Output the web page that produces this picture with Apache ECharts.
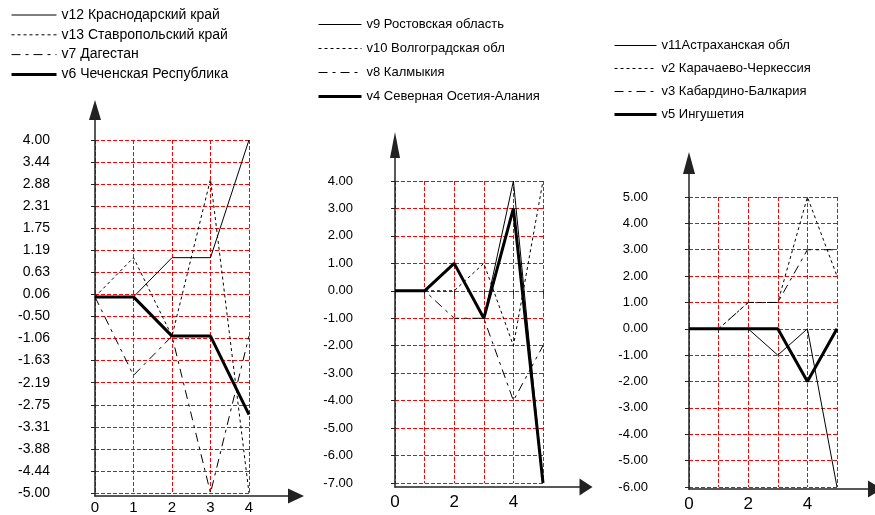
<!DOCTYPE html>
<html>
<head>
<meta charset="utf-8">
<script src="https://cdn.jsdelivr.net/npm/echarts@6/dist/echarts.min.js"></script>
<style>
html,body{margin:0;padding:0;background:#fff;}
#c{width:875px;height:515px;}
</style>
</head>
<body>
<div id="c"></div>
<script>
// ---- Chart 1 data ----
const x1 = [0, 1, 2, 3, 4];
const names1 = ['v12 Краснодарский край', 'v13 Ставропольский край', 'v7 Дагестан', 'v6 Чеченская Республика'];
const v12 = [0, 0, 1, 1, 4];
const v13 = [0, 1, -1, 3, -5];
const v7 = [0, -2, -1, -5, -1];
const v6 = [0, 0, -1, -1, -3];
const yTicks1 = ['-5.00','-4.44','-3.88','-3.31','-2.75','-2.19','-1.63','-1.06','-0.50','0.06','0.63','1.19','1.75','2.31','2.88','3.44','4.00'];
const y1Min = -5, y1Max = 4;

// ---- Chart 2 data ----
const x2 = [0, 1, 2, 3, 4, 5];
const names2 = ['v9 Ростовская область', 'v10 Волгоградская обл', 'v8 Калмыкия', 'v4 Северная Осетия-Алания'];
const v9 = [0, 0, 1, -1, 4, -7];
const v10 = [0, 0, 0, 1, -2, 4];
const v8 = [0, 0, -1, -1, -4, -2];
const v4 = [0, 0, 1, -1, 3, -7];
const y2Min = -7, y2Max = 4;

// ---- Chart 3 data ----
const x3 = [0, 1, 2, 3, 4, 5];
const names3 = ['v11Астраханская обл', 'v2 Карачаево-Черкессия', 'v3 Кабардино-Балкария', 'v5 Ингушетия'];
const v11 = [0, 0, 0, -1, 0, -6];
const v2 = [0, 0, 1, 1, 5, 2];
const v3 = [0, 0, 1, 1, 3, 3];
const v5 = [0, 0, 0, 0, -2, 0];
const y3Min = -6, y3Max = 5;

const FONT = '"Liberation Sans", Arial, sans-serif';
const RED = '#ff0000';
const AX = '#222';
const CLEAR = 'rgba(0,0,0,0)';

const styles = [
  {type: 'solid', width: 1},
  {type: [3, 3], width: 1},
  {type: [9, 5, 3, 5], width: 1},
  {type: 'solid', width: 3}
];

function pairs(xs, ys) { return xs.map((x, i) => [x, ys[i]]); }

function mkSeries(names, xs, arrs, gi) {
  return arrs.map((a, i) => ({
    name: names[i], type: 'line', xAxisIndex: gi, yAxisIndex: gi,
    data: pairs(xs, a), symbol: 'none', silent: true, animation: false,
    lineStyle: {color: '#000', width: styles[i].width, type: styles[i].type},
    itemStyle: {color: CLEAR, borderColor: CLEAR, borderWidth: 0}, z: 5 + i
  }));
}

// inner grids (data range) indices 0..2, outer grids (arrow axes) 3..5
const grids = [
  {left: 95, top: 140, width: 154, height: 353},
  {left: 395, top: 181, width: 148, height: 302},
  {left: 689, top: 197, width: 148, height: 290},
  {left: 95, top: 110, right: 579, bottom: 19},
  {left: 395, top: 145, right: 289, bottom: 28},
  {left: 689, top: 163, right: -5, bottom: 26}
];

const splitDash = {show: true, lineStyle: {color: RED, type: [4, 2], width: 1}};

function innerX(gi, max, fontSize, every, margin, offset) {
  return {
    gridIndex: gi, type: 'value', min: 0, max: max, interval: 1, offset: offset,
    axisLine: {show: false},
    axisTick: {show: true, length: 4, lineStyle: {color: AX, width: 1}},
    axisLabel: {show: true, margin: margin, color: '#000', fontSize: fontSize, fontFamily: FONT,
      formatter: v => (v % every === 0 ? String(v) : '')},
    splitLine: splitDash
  };
}

function innerY(gi, min, max, interval, labels, fontSize, margin) {
  return {
    gridIndex: gi, type: 'value', min: min, max: max, interval: interval,
    axisLine: {show: false},
    axisTick: {show: true, length: 4, lineStyle: {color: AX, width: 1}},
    axisLabel: {show: true, margin: margin, color: '#000', fontSize: fontSize, fontFamily: FONT,
      formatter: v => labels ? labels[Math.round((v - min) / interval)] : v.toFixed(2)},
    splitLine: splitDash
  };
}

function outerAxis(gi, size) {
  return {gridIndex: gi, type: 'value', min: 0, max: 1,
    axisLine: {show: true, onZero: false, symbol: ['none', 'triangle'], symbolSize: size, lineStyle: {color: AX, width: 1.5}},
    axisTick: {show: false}, axisLabel: {show: false}, splitLine: {show: false}};
}

function legend(names, left, top, iw, gap, fontSize) {
  return {
    data: names.map((n, i) => ({name: n, lineStyle: {width: styles[i].width}})),
    orient: 'vertical', left: left, top: top, itemWidth: iw, itemHeight: 14, itemGap: gap,
    selectedMode: false, padding: 0,
    itemStyle: {color: CLEAR, borderColor: CLEAR, borderWidth: 0},
    textStyle: {color: '#000', fontSize: fontSize, fontFamily: FONT}
  };
}

const option = {
  backgroundColor: '#fff',
  animation: false,
  grid: grids,
  legend: [
    legend(names1, 10, 8, 45, 5.8, 14),
    legend(names2, 317, 18, 43, 11, 13),
    legend(names3, 613, 39, 42, 10, 13)
  ],
  xAxis: [
    innerX(0, 4, 15, 1, 5, 2),
    innerX(1, 5, 17, 2, 7, 4),
    innerX(2, 5, 17, 2, 7, 2),
    outerAxis(3, [15, 16]),
    outerAxis(4, [17, 13]),
    outerAxis(5, [17, 14])
  ],
  yAxis: [
    innerY(0, y1Min, y1Max, (y1Max - y1Min) / (yTicks1.length - 1), yTicks1, 14, 45),
    innerY(1, y2Min, y2Max, 1, null, 13, 42),
    innerY(2, y3Min, y3Max, 1, null, 13, 41),
    outerAxis(3, [12, 20]),
    outerAxis(4, [10, 26]),
    outerAxis(5, [12, 22])
  ],
  series: [].concat(
    mkSeries(names1, x1, [v12, v13, v7, v6], 0),
    mkSeries(names2, x2, [v9, v10, v8, v4], 1),
    mkSeries(names3, x3, [v11, v2, v3, v5], 2)
  )
};

const chart = echarts.init(document.getElementById('c'), null, {renderer: 'canvas'});
chart.setOption(option);
</script>
</body>
</html>
